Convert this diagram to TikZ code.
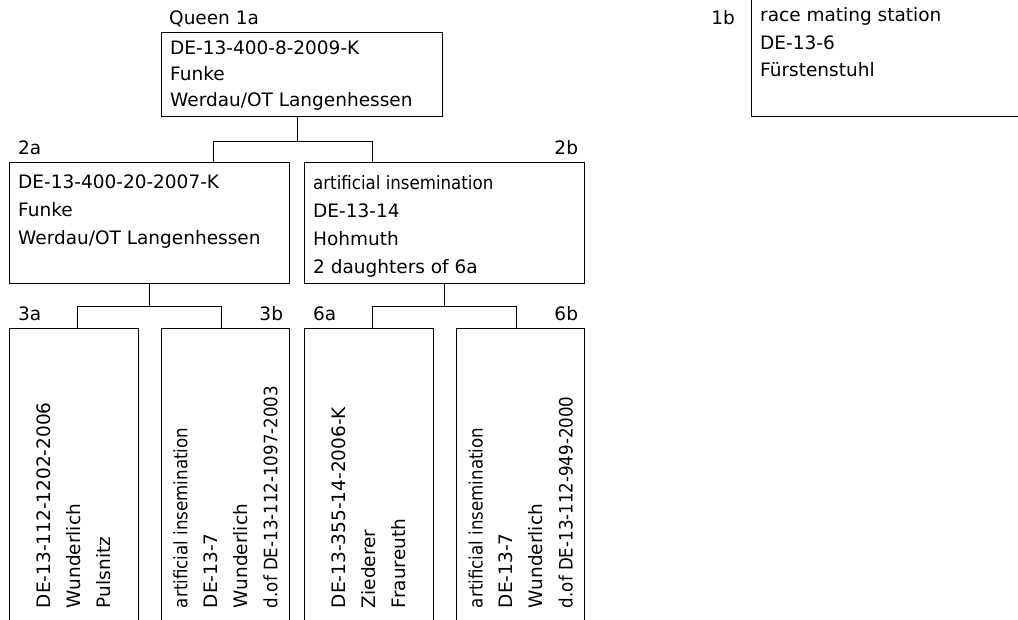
\documentclass[tikz,border=0pt]{standalone}
\usepackage{fontspec}
\setmainfont{DejaVu Sans}
\newfontfamily\condfont{DejaVu Sans Condensed}
\begin{document}
\begin{tikzpicture}[x=1pt,y=-1pt,
  box/.style={draw=black, line width=1.2pt, anchor=north west, inner sep=0pt},
  txt/.style={inner sep=0pt, align=left, font=\fontsize{18.5}{28}\selectfont},
  rtxt/.style={inner sep=0pt, align=left, rotate=90, anchor=west, font=\fontsize{18.5}{30}\selectfont},
  lbl/.style={inner sep=0pt, font=\fontsize{18.5}{28}\selectfont},
  conn/.style={draw=black, line width=1.2pt}]
\useasboundingbox (0,0) rectangle (1018,619);
% boxes
\node[box, minimum width=281pt, minimum height=84pt] (b1a) at (161,32) {};
\node[box, minimum width=279pt, minimum height=119pt] (b1b) at (751,-3) {};
\node[box, minimum width=280pt, minimum height=121pt] (b2a) at (9,162) {};
\node[box, minimum width=280pt, minimum height=121pt] (b2b) at (304,162) {};
\node[box, minimum width=129pt, minimum height=302pt] (b3a) at (9,328) {};
\node[box, minimum width=128pt, minimum height=302pt] (b3b) at (161,328) {};
\node[box, minimum width=129pt, minimum height=302pt] (b6a) at (304,328) {};
\node[box, minimum width=128pt, minimum height=302pt] (b6b) at (456,328) {};
% labels
\node[lbl, anchor=base west] (l1a) at ([xshift=8pt,yshift=8pt]b1a.north west) {Queen 1a};
\node[lbl, anchor=base east] (l1b) at ([xshift=-16pt,yshift=-27pt]b1b.north west) {1b};
\node[lbl, anchor=base west] (l2a) at ([xshift=9pt,yshift=8pt]b2a.north west) {2a};
\node[lbl, anchor=base east] (l2b) at ([xshift=-7pt,yshift=8pt]b2b.north east) {2b};
\node[lbl, anchor=base west] (l3a) at ([xshift=9pt,yshift=8pt]b3a.north west) {3a};
\node[lbl, anchor=base east] (l3b) at ([xshift=-7pt,yshift=8pt]b3b.north east) {3b};
\node[lbl, anchor=base west] (l6a) at ([xshift=9pt,yshift=8pt]b6a.north west) {6a};
\node[lbl, anchor=base east] (l6b) at ([xshift=-7pt,yshift=8pt]b6b.north east) {6b};
% texts
\node[txt, anchor=north west, font=\fontsize{18.5}{26}\selectfont] (t1a) at ([xshift=9pt,yshift=-9pt]b1a.north west)
  {DE-13-400-8-2009-K\\Funke\\Werdau/OT Langenhessen};
\node[txt, anchor=north west, font=\fontsize{18.5}{27.5}\selectfont] (t1b) at ([xshift=9pt,yshift=-10.5pt]b1b.north west)
  {race mating station\\DE-13-6\\Fürstenstuhl};
\node[txt, anchor=north west] (t2a) at ([xshift=9pt,yshift=-13pt]b2a.north west)
  {DE-13-400-20-2007-K\\Funke\\Werdau/OT Langenhessen};
\node[txt, anchor=north west] (t2b) at ([xshift=9pt,yshift=-13pt]b2b.north west)
  {{\condfont artificial insemination}\\DE-13-14\\Hohmuth\\2 daughters of 6a};
\node[rtxt] (t3a) at ([yshift=23pt]b3a.south)
  {DE-13-112-1202-2006\\Wunderlich\\Pulsnitz};
\node[rtxt] (t3b) at ([yshift=23pt]b3b.south)
  {{\condfont artificial insemination}\\DE-13-7\\Wunderlich\\{\condfont d.of DE-13-112-1097-2003}};
\node[rtxt] (t6a) at ([yshift=23pt]b6a.south)
  {DE-13-355-14-2006-K\\Ziederer\\Fraureuth};
\node[rtxt] (t6b) at ([yshift=23pt]b6b.south)
  {{\condfont artificial insemination}\\DE-13-7\\Wunderlich\\{\condfont d.of DE-13-112-949-2000}};
% connectors
\draw[conn] ([xshift=-4.5pt]b1a.south) -- ++(0,24) coordinate (j1);
\draw[conn] ([xshift=64pt]b2a.north) |- (j1) -| ([xshift=-72pt]b2b.north);
\draw[conn] (b2a.south) -- ++(0,22) coordinate (j2);
\draw[conn] ([xshift=3.5pt]b3a.north) |- (j2) -| ([xshift=-4pt]b3b.north);
\draw[conn] (b2b.south) -- ++(0,22) coordinate (j3);
\draw[conn] ([xshift=3.5pt]b6a.north) |- (j3) -| ([xshift=-4pt]b6b.north);
\end{tikzpicture}
\end{document}
